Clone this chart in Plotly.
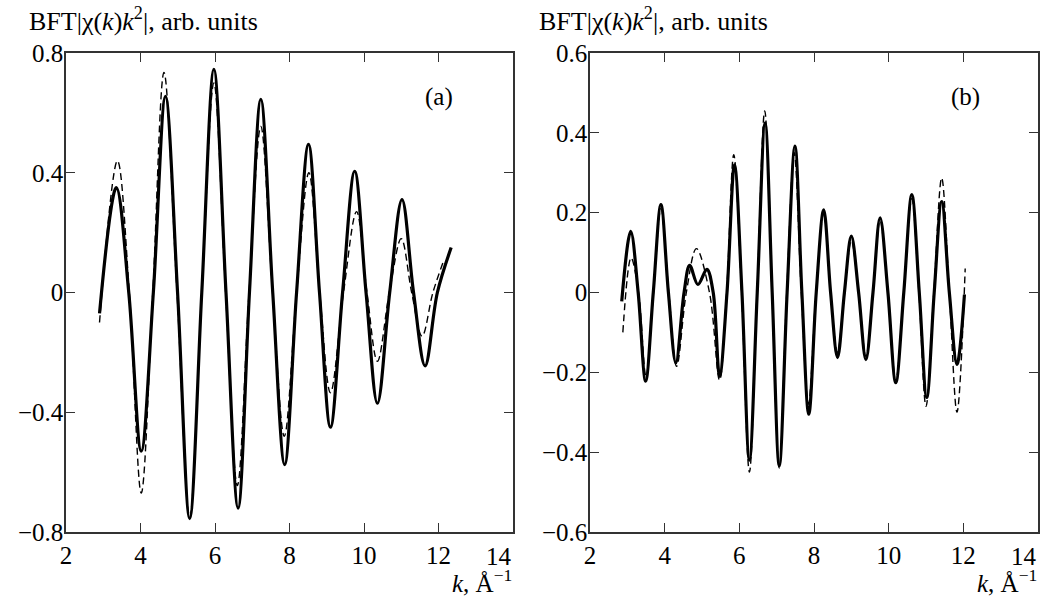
import plotly.graph_objects as go

# ---------------- Panel (a) ----------------
a_solid_k = [2.90, 3.35, 3.685, 4.02, 4.345, 4.67, 4.995, 5.32, 5.645, 5.97, 6.295, 6.62, 6.925,
             7.23, 7.55, 7.87, 8.19, 8.51, 8.805, 9.10, 9.425, 9.75, 10.055, 10.36, 10.69, 11.02,
             11.33, 11.64, 11.97, 12.34]
a_solid_y = [-0.07, 0.35, 0.0, -0.53, 0.0, 0.655, 0.0, -0.755, 0.0, 0.745, 0.0, -0.72, 0.0,
             0.645, 0.0, -0.575, 0.0, 0.495, 0.0, -0.45, 0.0, 0.405, 0.0, -0.37, 0.0, 0.31,
             0.0, -0.245, 0.0, 0.15]

a_dash_k = [2.90, 3.38, 3.70, 4.02, 4.33, 4.63, 4.98, 5.32, 5.645, 5.97, 6.285, 6.60, 6.915,
            7.23, 7.545, 7.86, 8.19, 8.52, 8.81, 9.10, 9.45, 9.80, 10.08, 10.36, 10.68, 11.00,
            11.28, 11.56, 11.85, 12.15]
a_dash_y = [-0.10, 0.44, 0.0, -0.67, 0.0, 0.735, 0.0, -0.75, 0.0, 0.70, 0.0, -0.645, 0.0,
            0.555, 0.0, -0.48, 0.0, 0.40, 0.0, -0.335, 0.0, 0.27, 0.0, -0.23, 0.0, 0.18,
            0.0, -0.146, 0.0, 0.11]

# ---------------- Panel (b) ----------------
b_solid_k = [2.85, 3.09, 3.29, 3.49, 3.695, 3.90, 4.10, 4.30, 4.52, 4.67, 4.89, 5.13, 5.30,
             5.47, 5.67, 5.87, 6.07, 6.27, 6.48, 6.69, 6.88, 7.07, 7.28, 7.49, 7.675, 7.86,
             8.06, 8.26, 8.445, 8.63, 8.815, 9.00, 9.195, 9.39, 9.58, 9.77, 9.98, 10.19,
             10.405, 10.62, 10.82, 11.02, 11.22, 11.42, 11.625, 11.83, 12.03]
b_solid_y = [-0.022, 0.153, 0.0, -0.222, 0.0, 0.22, 0.0, -0.176, 0.0, 0.068, 0.02, 0.058, 0.0,
             -0.21, 0.0, 0.32, 0.0, -0.42, 0.0, 0.425, 0.0, -0.435, 0.0, 0.367, 0.0, -0.305,
             0.0, 0.207, 0.0, -0.163, 0.0, 0.141, 0.0, -0.168, 0.0, 0.187, 0.0, -0.226,
             0.0, 0.245, 0.0, -0.263, 0.0, 0.228, 0.0, -0.18, -0.005]

b_dash_k = [2.88, 3.10, 3.30, 3.50, 3.70, 3.90, 4.11, 4.32, 4.58, 4.85, 5.20, 5.47, 5.66,
            5.85, 6.06, 6.27, 6.475, 6.68, 6.875, 7.07, 7.27, 7.47, 7.66, 7.85, 8.055, 8.26,
            8.445, 8.63, 8.815, 9.00, 9.195, 9.39, 9.58, 9.77, 9.98, 10.19, 10.405, 10.62,
            10.81, 11.00, 11.21, 11.42, 11.625, 11.83, 12.05]
b_dash_y = [-0.10, 0.087, 0.0, -0.21, 0.0, 0.21, 0.0, -0.185, 0.0, 0.11, 0.0, -0.22, 0.0,
            0.345, 0.0, -0.45, 0.0, 0.455, 0.0, -0.44, 0.0, 0.35, 0.0, -0.28, 0.0, 0.20,
            0.0, -0.15, 0.0, 0.13, 0.0, -0.16, 0.0, 0.18, 0.0, -0.22, 0.0, 0.235,
            0.0, -0.285, 0.0, 0.287, 0.0, -0.30, 0.06]

x_ticks = [2, 4, 6, 8, 10, 12, 14]
x_ticktext = ["2", "4", "6", "8", "10", "12", ""]
last_x_label = "14"
a_yticks = [-0.8, -0.4, 0, 0.4, 0.8]
b_yticks = [-0.6, -0.4, -0.2, 0, 0.2, 0.4, 0.6]

W, H = 1041, 599
FONT = "Liberation Serif"
AXC = "#333333"
TS = 25

fig = go.Figure()
solid_style = dict(color="black", width=3.2, shape="spline", smoothing=1.0)
dash_style = dict(color="black", width=1.4, dash="7px,4px", shape="spline", smoothing=1.0)

fig.add_trace(go.Scatter(x=a_dash_k, y=a_dash_y, mode="lines", line=dash_style, xaxis="x", yaxis="y"))
fig.add_trace(go.Scatter(x=a_solid_k, y=a_solid_y, mode="lines", line=solid_style, xaxis="x", yaxis="y"))
fig.add_trace(go.Scatter(x=b_dash_k, y=b_dash_y, mode="lines", line=dash_style, xaxis="x2", yaxis="y2"))
fig.add_trace(go.Scatter(x=b_solid_k, y=b_solid_y, mode="lines", line=solid_style, xaxis="x2", yaxis="y2"))

y_dom = [(H - 532) / H, (H - 53) / H]
common_axis = dict(showgrid=False, zeroline=False, showline=True, linecolor=AXC, linewidth=1.5,
                   mirror="ticks", ticks="inside", ticklen=9, tickwidth=1.3, tickcolor=AXC,
                   tickfont=dict(family=FONT, size=TS, color="black"), automargin=False)

xa_dom = [66 / W, 513 / W]
xb_dom = [590 / W, 1038 / W]
fig.update_layout(
    width=W, height=H,
    margin=dict(l=0, r=0, t=0, b=0),
    paper_bgcolor="white", plot_bgcolor="white",
    showlegend=False,
    font=dict(family=FONT, size=TS, color="black"),
    xaxis=dict(domain=xa_dom, range=[2, 14], tickvals=x_ticks, ticktext=x_ticktext, anchor="y", **common_axis),
    yaxis=dict(domain=y_dom, range=[-0.8, 0.8], tickvals=a_yticks, anchor="x", ticklabelstandoff=-4, **common_axis),
    xaxis2=dict(domain=xb_dom, range=[2, 14], tickvals=x_ticks, ticktext=x_ticktext, anchor="y2", **common_axis),
    yaxis2=dict(domain=y_dom, range=[-0.6, 0.6], tickvals=b_yticks, anchor="x2", ticklabelstandoff=-4, **common_axis),
)

title_txt = "BFT|χ(<i>k</i>)<i>k</i><sup>2</sup>|, arb. units"
xlab_txt = "<i>k</i>, Å<sup>−1</sup>"
ann_font = dict(family=FONT, size=TS, color="black")
title_font = dict(family=FONT, size=26, color="black")
for xl, xr, tag, tagx in [(27, 514, "(a)", 439), (537, 1039, "(b)", 965)]:
    fig.add_annotation(x=xl / W, y=(H - 20) / H, xref="paper", yref="paper", text=title_txt,
                       showarrow=False, xanchor="left", yanchor="middle", font=title_font)
    fig.add_annotation(x=xr / W, y=(H - 581) / H, xref="paper", yref="paper", text=xlab_txt,
                       showarrow=False, xanchor="right", yanchor="middle", font=ann_font)
    fig.add_annotation(x=tagx / W, y=(H - 97) / H, xref="paper", yref="paper", text=tag,
                       showarrow=False, xanchor="center", yanchor="middle", font=ann_font)
    # last x tick label, right-aligned to the axis end as in the reference
    fig.add_annotation(x=xr / W, y=(H - 556) / H, xref="paper", yref="paper", text=last_x_label,
                       showarrow=False, xanchor="right", yanchor="middle", font=ann_font)

fig.write_html("out.html", config={"displayModeBar": False},
               post_script="document.body.style.margin='0';document.body.style.overflow='hidden';")
